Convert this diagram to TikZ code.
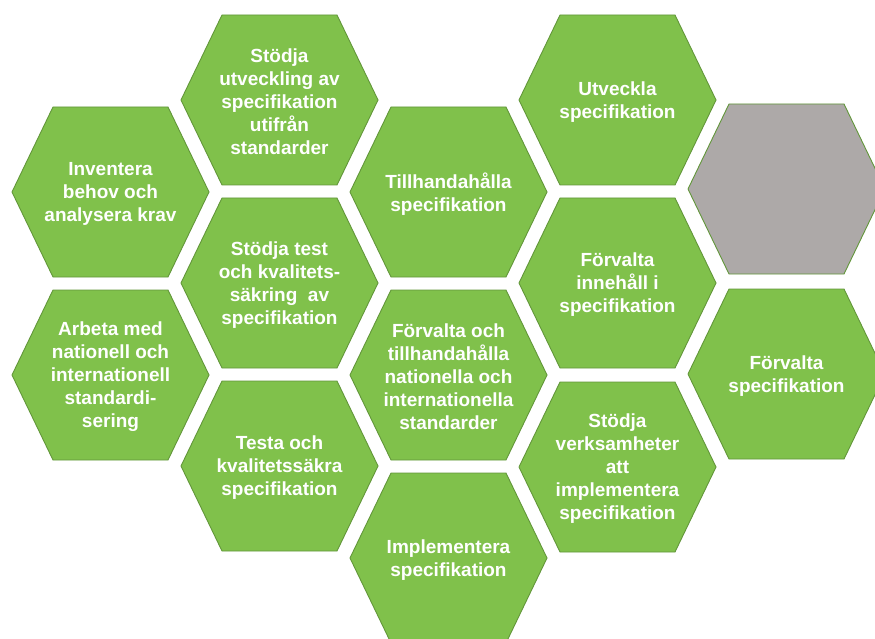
\documentclass[tikz,border=0pt]{standalone}
\usepackage{fontspec}
\setmainfont{Liberation Sans}
\definecolor{cellgreen}{RGB}{128,193,75}
\definecolor{celledge}{RGB}{98,150,58}
\definecolor{cellgrey}{RGB}{173,169,168}
\tikzset{
    hexcell/.pic={
        \path[pic actions] (-98.5,0) -- (-57.5,-85) -- (57.5,-85) -- (98.5,0)
            -- (57.5,85) -- (-57.5,85) -- cycle;
    },
    cell/.style={draw=celledge, line width=0.9pt, fill=cellgreen},
    greycell/.style={draw=celledge, line width=0.9pt, fill=cellgrey},
    celltext/.style={text=white, align=center, yshift=-2pt, font=\fontsize{19}{23}\selectfont\bfseries}
}
\begin{document}
\begin{tikzpicture}[x=1pt, y=-1pt]
        \useasboundingbox (0,0) rectangle (875,639);
        \clip (0,0) rectangle (875,639);
        % first column
        \pic[cell] at (110.5,192) {hexcell};
        \pic[cell] at (110.5,375) {hexcell};
        \node[celltext] (inventera) at (110.5,192) {Inventera\\behov och\\analysera krav};
        \node[celltext] (arbeta) at (110.5,375) {Arbeta med\\nationell och\\internationell\\standardi-\\sering};
        % second column
        \pic[cell] at (279.5,100) {hexcell};
        \pic[cell] at (279.5,283) {hexcell};
        \pic[cell] at (279.5,466) {hexcell};
        \node[celltext] (utveckling) at (279.5,100) {Stödja\\utveckling av\\specifikation\\utifrån\\standarder};
        \node[celltext] (test) at (279.5,283) {Stödja test\\och kvalitets-\\säkring~ av\\specifikation};
        \node[celltext] (testa) at (279.5,466) {Testa och\\kvalitetssäkra\\specifikation};
        % third column
        \pic[cell] at (448.5,192) {hexcell};
        \pic[cell] at (448.5,375) {hexcell};
        \pic[cell] at (448.5,558) {hexcell};
        \node[celltext] (tillhanda) at (448.5,192) {Tillhandahålla\\specifikation};
        \node[celltext] (standarder) at (448.5,375) {Förvalta och\\tillhandahålla\\nationella och\\internationella\\standarder};
        \node[celltext] (implementera) at (448.5,558) {Implementera\\specifikation};
        % fourth column
        \pic[cell] at (617.5,100) {hexcell};
        \pic[cell] at (617.5,283) {hexcell};
        \pic[cell] at (617.5,467) {hexcell};
        \node[celltext] (utveckla) at (617.5,100) {Utveckla\\specifikation};
        \node[celltext] (innehall) at (617.5,283) {Förvalta\\innehåll i\\specifikation};
        \node[celltext] (verksamheter) at (617.5,467) {Stödja\\verksamheter\\att\\implementera\\specifikation};
        % fifth column
        \pic[greycell] at (786.5,189) {hexcell};
        \pic[cell] at (786.5,374) {hexcell};
        \node[celltext] (forvalta) at (786.5,374) {Förvalta\\specifikation};
    \end{tikzpicture}
\end{document}
